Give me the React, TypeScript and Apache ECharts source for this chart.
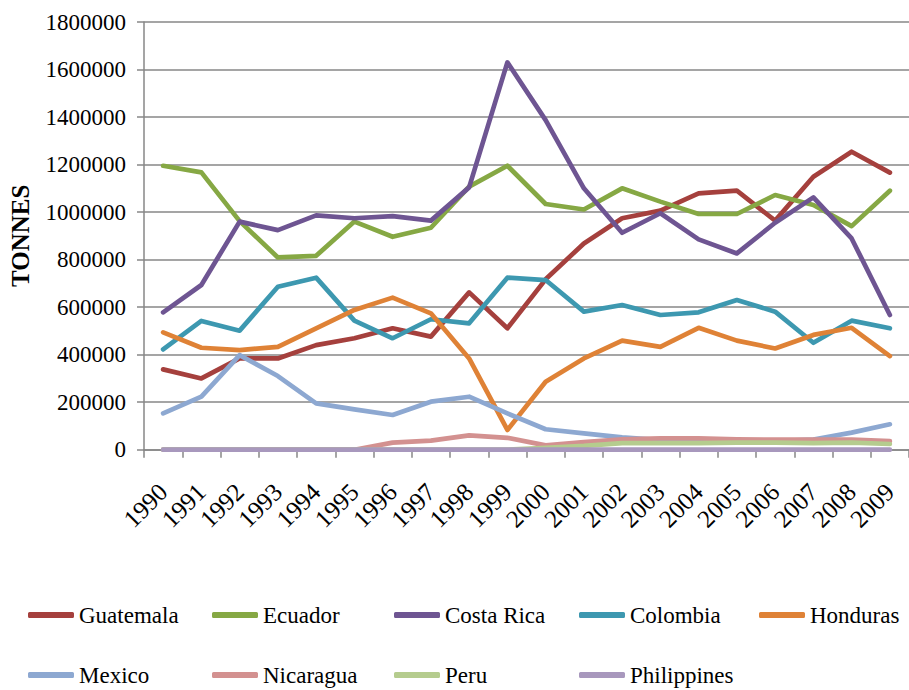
import React, { useEffect, useRef } from "react";
import * as echarts from "echarts";

const years = ["1990","1991","1992","1993","1994","1995","1996","1997","1998","1999","2000","2001","2002","2003","2004","2005","2006","2007","2008","2009"];

const guatemala = [338000,300000,384000,384000,440000,469000,511000,476000,662000,511000,717000,868000,974000,1006000,1079000,1090000,964000,1149000,1254000,1166000];
const ecuador = [1195000,1167000,962000,809000,816000,960000,896000,934000,1107000,1195000,1034000,1011000,1100000,1044000,992000,992000,1072000,1030000,941000,1090000];
const costaRica = [578000,693000,960000,924000,986000,974000,983000,964000,1104000,1630000,1387000,1100000,913000,995000,885000,826000,955000,1062000,889000,567000];
const colombia = [422000,542000,501000,686000,724000,543000,469000,549000,532000,724000,714000,581000,609000,567000,578000,630000,581000,450000,543000,511000];
const honduras = [494000,429000,419000,433000,511000,588000,640000,574000,384000,83000,286000,384000,459000,433000,513000,459000,426000,483000,513000,394000];
const mexico = [153000,223000,398000,310000,195000,170000,146000,202000,223000,153000,86000,69000,52000,40000,38000,36000,36000,43000,72000,107000];
const nicaragua = [0,0,0,0,0,0,30000,38000,60000,50000,18000,32000,44000,48000,48000,44000,42000,42000,42000,36000];
const peru = [0,0,0,0,0,0,0,0,0,0,8000,16000,28000,28000,28000,30000,30000,28000,30000,24000];
const philippines = [0,0,0,0,0,0,0,0,0,0,0,0,0,0,0,0,0,0,0,0];

const yTicks = { min: 0, max: 1800000, interval: 200000 };

const seriesDefs = [
  { name: "Guatemala", data: guatemala, color: "#A5403D" },
  { name: "Ecuador", data: ecuador, color: "#86A844" },
  { name: "Costa Rica", data: costaRica, color: "#6E5592" },
  { name: "Colombia", data: colombia, color: "#3D98B0" },
  { name: "Honduras", data: honduras, color: "#DF8236" },
  { name: "Mexico", data: mexico, color: "#8DA8D1" },
  { name: "Nicaragua", data: nicaragua, color: "#D39190" },
  { name: "Peru", data: peru, color: "#B5CC8E" },
  { name: "Philippines", data: philippines, color: "#A898BD" },
];

const legendPos = [
  [28, 602], [212, 602], [394, 602], [579, 602], [759, 602],
  [28, 662], [212, 662], [394, 662], [579, 662],
];

const FONT = "Liberation Serif";
const GRID_GRAY = "#878787";

export default function App() {
  const ref = useRef<HTMLDivElement>(null);
  useEffect(() => {
    if (!ref.current) return;
    const chart = echarts.init(ref.current, null, { renderer: "svg" });
    chart.setOption({
      animation: false,
      backgroundColor: "#ffffff",
      textStyle: { fontFamily: FONT },
      grid: { left: 137.3, top: 22, width: 775, height: 427.7, containLabel: false },
      legend: seriesDefs.map((s, i) => ({
        data: [s.name],
        left: legendPos[i][0],
        top: legendPos[i][1],
        padding: 0,
        icon: "roundRect",
        itemWidth: 46,
        itemHeight: 6,
        itemGap: 0,
        selectedMode: false,
        textStyle: { fontFamily: FONT, fontSize: 23, color: "#000", lineHeight: 26 },
      })),
      xAxis: {
        type: "category",
        data: years,
        boundaryGap: true,
        axisLine: { lineStyle: { color: GRID_GRAY, width: 1.5 } },
        axisTick: { show: true, length: 8, lineStyle: { color: GRID_GRAY, width: 1.5 } },
        axisLabel: { rotate: 45, margin: 38, fontFamily: FONT, fontSize: 25, color: "#000", interval: 0 },
        splitLine: { show: false },
      },
      yAxis: {
        type: "value",
        min: yTicks.min,
        max: yTicks.max,
        interval: yTicks.interval,
        name: "TONNES",
        nameLocation: "middle",
        nameRotate: 90,
        nameGap: 111,
        nameTextStyle: { fontFamily: FONT, fontSize: 25, fontWeight: "bold", color: "#000" },
        axisLine: { show: true, lineStyle: { color: GRID_GRAY, width: 1.5 } },
        axisTick: { show: true, length: 7, lineStyle: { color: GRID_GRAY, width: 1.5 } },
        axisLabel: {
          margin: 18,
          fontFamily: FONT,
          fontSize: 23,
          color: "#000",
          formatter: (v: number) => String(v),
        },
        splitLine: { show: true, lineStyle: { color: GRID_GRAY, width: 1.5 } },
      },
      series: seriesDefs.map((s) => ({
        name: s.name,
        type: "line",
        data: s.data,
        symbol: "none",
        showSymbol: false,
        color: s.color,
        lineStyle: { color: s.color, width: 4.7, join: "round", cap: "round" },
        itemStyle: { color: s.color },
      })),
    });
    return () => chart.dispose();
  }, []);
  return (
    <div
      ref={ref}
      style={{ position: "absolute", left: 0, top: 0, width: 909, height: 690, background: "#fff" }}
    />
  );
}
